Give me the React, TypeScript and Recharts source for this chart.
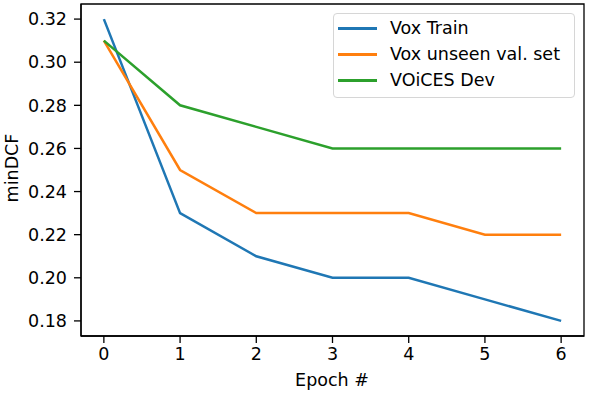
import { LineChart, Line, XAxis, YAxis, Legend, ReferenceArea } from "recharts"

const epochs = [0, 1, 2, 3, 4, 5, 6]
const voxTrain = [0.32, 0.23, 0.21, 0.2, 0.2, 0.19, 0.18]
const voxUnseen = [0.31, 0.25, 0.23, 0.23, 0.23, 0.22, 0.22]
const voicesDev = [0.31, 0.28, 0.27, 0.26, 0.26, 0.26, 0.26]
const yTicks = [0.18, 0.2, 0.22, 0.24, 0.26, 0.28, 0.3, 0.32]

const SERIES = [
  { key: "train", name: "Vox Train", colour: "#1f77b4" },
  { key: "unseen", name: "Vox unseen val. set", colour: "#ff7f0e" },
  { key: "voices", name: "VOiCES Dev", colour: "#2ca02c" },
]

const data = epochs.map((e, i) => ({
  epoch: e,
  train: voxTrain[i],
  unseen: voxUnseen[i],
  voices: voicesDev[i],
}))

const FONT = "'DejaVu Sans', sans-serif"
const FS = 17.5

function LegendBox() {
  return (
    <div
      style={{
        position: "relative",
        width: 242,
        height: 85,
        border: "1px solid #d6d6d6",
        borderRadius: 4,
        background: "rgba(255,255,255,0.8)",
        fontFamily: FONT,
        fontSize: FS,
        color: "#000",
        boxSizing: "border-box",
      }}
    >
      {SERIES.map((s, i) => (
        <div key={s.key} style={{ position: "absolute", left: 0, top: 1 + i * 26, width: 240, height: 26 }}>
          <div style={{ position: "absolute", left: 4, top: 12, width: 39, height: 2.5, background: s.colour }} />
          <div style={{ position: "absolute", left: 56, top: 0, height: 26, lineHeight: "26px", whiteSpace: "nowrap" }}>
            {s.name}
          </div>
        </div>
      ))}
    </div>
  )
}

function YLabel() {
  return (
    <text x={13} y={168} transform="rotate(-90, 13, 168)" textAnchor="middle" dominantBaseline="middle"
      fontFamily={FONT} fontSize={FS} fill="#000">
      minDCF
    </text>
  )
}

function XLabel() {
  return (
    <text x={332} y={381} textAnchor="middle" dominantBaseline="middle" fontFamily={FONT} fontSize={FS} fill="#000">
      Epoch #
    </text>
  )
}

export default function App() {
  return (
    <div style={{ position: "absolute", left: 0, top: 0, width: 598, height: 399, background: "#fff" }}>
      <LineChart width={598} height={399} data={data} margin={{ top: 4, right: 14, bottom: 0, left: 0 }}>
        <XAxis
          dataKey="epoch"
          type="number"
          domain={[-0.3, 6.3]}
          ticks={epochs}
          allowDataOverflow
          height={63}
          stroke="#000"
          strokeWidth={1.3}
          tickSize={7}
          tick={{ fill: "#000", fontSize: FS, fontFamily: FONT, dy: 3 }}
          label={<XLabel />}
        />
        <YAxis
          type="number"
          domain={[0.173, 0.327]}
          ticks={yTicks}
          allowDataOverflow
          width={81}
          stroke="#000"
          strokeWidth={1.3}
          tickSize={7}
          tickFormatter={v => v.toFixed(2)}
          tick={{ fill: "#000", fontSize: FS, fontFamily: FONT, dx: -5 }}
          label={<YLabel />}
        />
        <ReferenceArea x1={-0.3} x2={6.3} y1={0.173} y2={0.327} fill="none" stroke="#000" strokeWidth={1.3} ifOverflow="visible" />
        {SERIES.map(s => (
          <Line
            key={s.key}
            dataKey={s.key}
            name={s.name}
            stroke={s.colour}
            strokeWidth={2.5}
            dot={false}
            activeDot={false}
            isAnimationActive={false}
          />
        ))}
        <Legend
          layout="horizontal"
          verticalAlign="middle"
          align="center"
          content={<LegendBox />}
          wrapperStyle={{ position: "absolute", top: 13, left: 333, width: 242, height: 85 }}
        />
      </LineChart>
    </div>
  )
}
